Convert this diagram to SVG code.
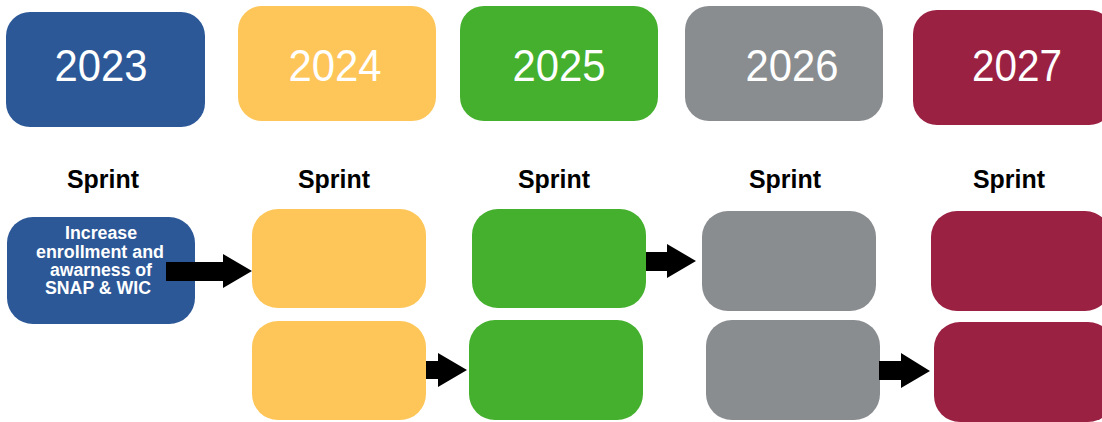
<svg xmlns="http://www.w3.org/2000/svg" width="1102" height="422" viewBox="0 0 1102 422">
<style>
.blue{fill:#2C5898}.yellow{fill:#FEC659}.green{fill:#44B02D}.gray{fill:#8A8D90}.red{fill:#9B2143}
.year{font-family:"Liberation Sans",Arial,sans-serif;font-size:44px;fill:#fff;text-anchor:middle}
.sprint{font-family:"Liberation Sans",Arial,sans-serif;font-size:25px;font-weight:bold;fill:#000;text-anchor:middle}
.goal{font-family:"Liberation Sans",Arial,sans-serif;font-size:17.5px;font-weight:bold;fill:#fff;text-anchor:middle}
.arrow{fill:#000}
</style>
<rect width="1102" height="422" fill="#fff"/>
<g id="year-2023"><rect class="blue" x="6" y="12" width="199" height="115" rx="24" ry="24"/><text class="year" x="101" y="81" textLength="93" lengthAdjust="spacingAndGlyphs">2023</text></g>
<g id="year-2024"><rect class="yellow" x="238" y="6" width="198" height="115" rx="24" ry="24"/><text class="year" x="335" y="81" textLength="93" lengthAdjust="spacingAndGlyphs">2024</text></g>
<g id="year-2025"><rect class="green" x="460" y="6" width="198" height="115" rx="24" ry="24"/><text class="year" x="559" y="81" textLength="93" lengthAdjust="spacingAndGlyphs">2025</text></g>
<g id="year-2026"><rect class="gray" x="685" y="6" width="198" height="115" rx="24" ry="24"/><text class="year" x="792" y="81" textLength="93" lengthAdjust="spacingAndGlyphs">2026</text></g>
<g id="year-2027"><rect class="red" x="913" y="10" width="200" height="115" rx="24" ry="24"/><text class="year" x="1017" y="81" textLength="90" lengthAdjust="spacingAndGlyphs">2027</text></g>
<g id="sprint-labels">
<text class="sprint" x="103" y="188" textLength="72" lengthAdjust="spacingAndGlyphs">Sprint</text>
<text class="sprint" x="334" y="188" textLength="72" lengthAdjust="spacingAndGlyphs">Sprint</text>
<text class="sprint" x="554" y="188" textLength="72" lengthAdjust="spacingAndGlyphs">Sprint</text>
<text class="sprint" x="785" y="188" textLength="72" lengthAdjust="spacingAndGlyphs">Sprint</text>
<text class="sprint" x="1009" y="188" textLength="72" lengthAdjust="spacingAndGlyphs">Sprint</text>
</g>
<g id="goal-2023"><rect class="blue" x="7" y="217" width="188" height="107" rx="26" ry="26"/>
<text class="goal" x="101" y="239" textLength="72" lengthAdjust="spacingAndGlyphs">Increase</text>
<text class="goal" x="100" y="257.5" textLength="128" lengthAdjust="spacingAndGlyphs">enrollment and</text>
<text class="goal" x="101" y="276" textLength="102" lengthAdjust="spacingAndGlyphs">awarness of</text>
<text class="goal" x="98" y="294" textLength="106" lengthAdjust="spacingAndGlyphs">SNAP &amp; WIC</text></g>
<g id="task-2024-a"><rect class="yellow" x="252" y="209" width="174" height="99" rx="26" ry="26"/></g>
<g id="task-2024-b"><rect class="yellow" x="252" y="321" width="174" height="99" rx="26" ry="26"/></g>
<g id="task-2025-a"><rect class="green" x="472" y="209" width="174" height="99" rx="26" ry="26"/></g>
<g id="task-2025-b"><rect class="green" x="469" y="320" width="174" height="100" rx="26" ry="26"/></g>
<g id="task-2026-a"><rect class="gray" x="702" y="211" width="174" height="100" rx="26" ry="26"/></g>
<g id="task-2026-b"><rect class="gray" x="706" y="320" width="174" height="100" rx="26" ry="26"/></g>
<g id="task-2027-a"><rect class="red" x="931" y="211" width="180" height="100" rx="26" ry="26"/></g>
<g id="task-2027-b"><rect class="red" x="934" y="322" width="180" height="100" rx="26" ry="26"/></g>
<g id="connectors">
<polygon class="arrow" points="166,262 223,262 223,254 252,271 223,288 223,281 166,281"/>
<polygon class="arrow" points="426,361 438,361 438,353 467,370 438,387 438,379 426,379"/>
<polygon class="arrow" points="646,252 667,252 667,244 696,261 667,278 667,271 646,271"/>
<polygon class="arrow" points="879,361 901,361 901,353 930,371 901,388 901,380 879,380"/>
</g>
</svg>
